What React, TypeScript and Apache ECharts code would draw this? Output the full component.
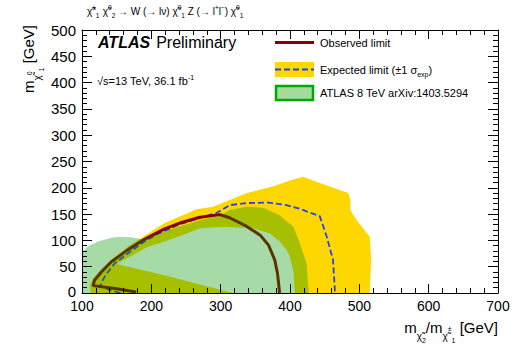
import React, { useEffect, useRef } from "react";
import * as echarts from "echarts";

// [m(chi2/chi1±), m(chi1^0)] in GeV
const observedLimit: number[][] = [
  [178, 2], [150, 8], [116, 14], [118, 24], [128, 40], [142, 59], [166, 82], [190, 102],
  [219, 122], [241, 133], [270, 144], [299, 149], [313, 143], [337, 127], [357, 110],
  [369, 91], [378, 63], [382, 37], [385, 0],
];
const expectedLimit: number[][] = [
  [155, 0], [140, 6], [126, 13], [129, 22], [134, 34], [147, 56], [166, 75], [190, 98],
  [210, 113], [240, 130], [270, 143], [294, 152], [313, 167], [338, 171], [369, 172],
  [395, 167], [412, 161], [443, 146], [453, 107], [462, 63], [465, 0],
];
const expectedPlus1Sigma: number[][] = [
  [113, 0], [111, 14], [116, 28], [128, 46], [145, 66], [166, 88], [188, 107], [219, 133],
  [253, 152], [265, 159], [289, 164], [304, 172], [338, 190], [376, 203], [400, 214],
  [419, 221], [443, 209], [484, 190], [487, 177], [487, 158], [496, 139], [515, 107],
  [517, 63], [515, 0],
];
const expectedMinus1Sigma: number[][] = [
  [150, 55], [170, 70], [195, 88], [219, 98], [253, 114], [270, 123], [304, 126],
  [347, 123], [371, 113], [385, 98], [395, 82], [400, 69], [405, 40], [407, 0],
  [318, 0], [270, 16], [227, 31], [190, 43], [160, 52],
];
const atlas8TeV: number[][] = [
  [100, 0], [100, 78], [110, 90], [123, 98], [140, 104], [152, 107], [170, 106], [188, 102],
  [200, 108], [219, 117], [241, 127], [253, 131], [270, 139], [299, 147], [313, 158],
  [337, 164], [361, 162], [385, 148], [405, 126], [414, 95], [424, 56], [427, 0],
];

const legendLabels = ["Observed limit", "Expected limit (±1 σ", "ATLAS 8 TeV arXiv:1403.5294"];

const FONT = "'Liberation Sans', Arial, Helvetica, sans-serif";
const CHI = "\u03C7\u0303";
const YELLOW = "#ffd700";
const RED = "#8b0000";
const BLUE = "#2244ee";
const GREEN_OVER = "rgba(0,150,0,0.35)";

function poly(pts: number[][], fill: string, z: number) {
  return {
    type: "custom",
    z,
    silent: true,
    clip: true,
    data: [pts[0]],
    encode: { x: 0, y: 1 },
    renderItem: (_p: any, api: any) => ({
      type: "polygon",
      shape: { points: pts.map((p) => api.coord(p)) },
      style: { fill },
    }),
  };
}

function axisCommon(extra: any) {
  return {
    type: "value",
    z: 10,
    axisLine: { show: true, onZero: false, lineStyle: { color: "#000", width: 1 } },
    splitLine: { show: false },
    minorSplitLine: { show: false },
    ...extra,
  };
}

export default function App() {
  const ref = useRef<HTMLDivElement>(null);
  useEffect(() => {
    const chart = echarts.init(ref.current!, null, { renderer: "svg" });
    const xTick = { show: true, inside: true, length: 9, lineStyle: { color: "#000" } };
    const xMinor = { show: true, splitNumber: 5, length: 5, lineStyle: { color: "#000" } };
    const yTick = { show: true, inside: true, length: 10, lineStyle: { color: "#000" } };
    const yMinor = { show: true, splitNumber: 5, length: 5, lineStyle: { color: "#000" } };
    const richBase = {
      n: { fontSize: 15, fontFamily: FONT, color: "#000" },
      c: { fontSize: 10, fontFamily: FONT, color: "#000", padding: [18, 0, 0, 0] },
      cp: { fontSize: 7, fontFamily: FONT, color: "#000", padding: [2, 0, 0, 0] },
      cb: { fontSize: 7, fontFamily: FONT, color: "#000", padding: [26, 0, 0, 0] },
    };
    const titleRich = {
      t: { fontSize: 10, fontFamily: FONT, color: "#000" },
      c: { fontSize: 10, fontFamily: FONT, color: "#000" },
      p: { fontSize: 6.5, fontFamily: FONT, color: "#000", padding: [0, 0, 8, 0] },
      b: { fontSize: 6.5, fontFamily: FONT, color: "#000", padding: [8, 0, 0, 0] },
    };
    chart.setOption({
      animation: false,
      grid: { left: 82, right: 17, top: 30, bottom: 52, show: false },
      xAxis: [
        axisCommon({
          min: 100, max: 700, interval: 100, position: "bottom",
          axisTick: xTick, minorTick: xMinor,
          axisLabel: { fontSize: 14, lineHeight: 12, color: "#000", margin: 7, fontFamily: FONT },
        }),
        axisCommon({
          min: 100, max: 700, interval: 100, position: "top",
          axisTick: xTick, minorTick: xMinor, axisLabel: { show: false },
        }),
      ],
      yAxis: [
        axisCommon({
          min: 0, max: 500, interval: 50, position: "left",
          axisTick: yTick, minorTick: yMinor,
          axisLabel: {
            fontSize: 15, lineHeight: 12, color: "#000", margin: 6, fontFamily: FONT,
            formatter: (v: number) => (v === 0 ? "{z|0}" : String(v)),
            rich: { z: { fontSize: 15, lineHeight: 12, fontFamily: FONT, color: "#000", padding: [0, 0, 3, 0] } },
          },
        }),
        axisCommon({
          min: 0, max: 500, interval: 50, position: "right",
          axisTick: yTick, minorTick: yMinor, axisLabel: { show: false },
        }),
      ],
      series: [
        poly(expectedPlus1Sigma, YELLOW, 1),
        poly(expectedMinus1Sigma, "#ffffff", 2),
        {
          type: "line", z: 3, data: expectedLimit, showSymbol: false, silent: true,
          lineStyle: { color: BLUE, width: 1.8, type: [6, 3] },
        },
        {
          type: "line", z: 4, data: observedLimit, showSymbol: false, silent: true,
          lineStyle: { color: RED, width: 3 },
        },
        poly(atlas8TeV, GREEN_OVER, 5),
      ],
      graphic: [
        {
          type: "text", x: 87, y: 11.5,
          style: {
            text: `{c|${CHI}}{p|±}{b|1} {c|${CHI}}{p|0}{b|2}{t| → W (→ lν) }{c|${CHI}}{p|0}{b|1}{t| Z (→ l}{p|+}{t|l}{p|−}{t|) }{c|${CHI}}{p|0}{b|1}`,
            rich: titleRich, verticalAlign: "middle", align: "left",
          },
        },
        {
          type: "text", x: 98, y: 42.5,
          style: {
            text: "{a|ATLAS}{p|Preliminary}",
            rich: {
              a: { fontSize: 16, fontWeight: "bold", fontStyle: "italic", fontFamily: FONT, color: "#000" },
              p: { fontSize: 16, fontFamily: FONT, color: "#000", padding: [0, 0, 0, 6] },
            },
            verticalAlign: "middle",
          },
        },
        {
          type: "text", x: 97, y: 81,
          style: {
            text: "{t|√s=13 TeV, 36.1 fb}{p|-1}",
            rich: {
              t: { fontSize: 11, fontFamily: FONT, color: "#000" },
              p: { fontSize: 7, fontFamily: FONT, color: "#000", padding: [0, 0, 8, 0] },
            },
            verticalAlign: "middle",
          },
        },
        // legend
        { type: "line", shape: { x1: 275, y1: 42.5, x2: 314, y2: 42.5 }, style: { stroke: RED, lineWidth: 3 } },
        { type: "rect", shape: { x: 275, y: 62, width: 39, height: 15 }, style: { fill: YELLOW } },
        { type: "line", shape: { x1: 275, y1: 69.5, x2: 314, y2: 69.5 }, style: { stroke: BLUE, lineWidth: 1.8, lineDash: [6, 3] } },
        { type: "rect", shape: { x: 276, y: 86, width: 37, height: 14 }, style: { fill: "#a6dba0", stroke: "#00a800", lineWidth: 2.5 } },
        {
          type: "text", x: 320, y: 43,
          style: { text: legendLabels[0], fontSize: 11, fontFamily: FONT, fill: "#000", verticalAlign: "middle" },
        },
        {
          type: "text", x: 320, y: 70,
          style: {
            text: `{t|${legendLabels[1]}}{b|exp}{t|)}`,
            rich: {
              t: { fontSize: 11, fontFamily: FONT, color: "#000" },
              b: { fontSize: 7, fontFamily: FONT, color: "#000", padding: [8, 0, 0, 0] },
            },
            verticalAlign: "middle",
          },
        },
        {
          type: "text", x: 320, y: 92.5,
          style: { text: legendLabels[2], fontSize: 11, fontFamily: FONT, fill: "#000", verticalAlign: "middle" },
        },
        // axis titles
        {
          type: "text", x: 498, y: 327, z: 20,
          style: {
            text: `{n|m}{c|${CHI}}{cb|2}{n|/m}{c|${CHI}}{cp|±}{cb|1}{n| [GeV]}`,
            rich: richBase, align: "right", verticalAlign: "middle",
          },
        },
        {
          type: "text", x: 28, y: 25, rotation: Math.PI / 2, z: 20,
          style: {
            text: `{n|m}{c|${CHI}}{cp|0}{cb|1}{n| [GeV]}`,
            rich: richBase, align: "right", verticalAlign: "middle",
          },
        },
      ],
    });
    return () => chart.dispose();
  }, []);
  return (
    <div
      ref={ref}
      style={{ position: "fixed", left: 0, top: 0, width: 515, height: 345, background: "#fff" }}
    />
  );
}
